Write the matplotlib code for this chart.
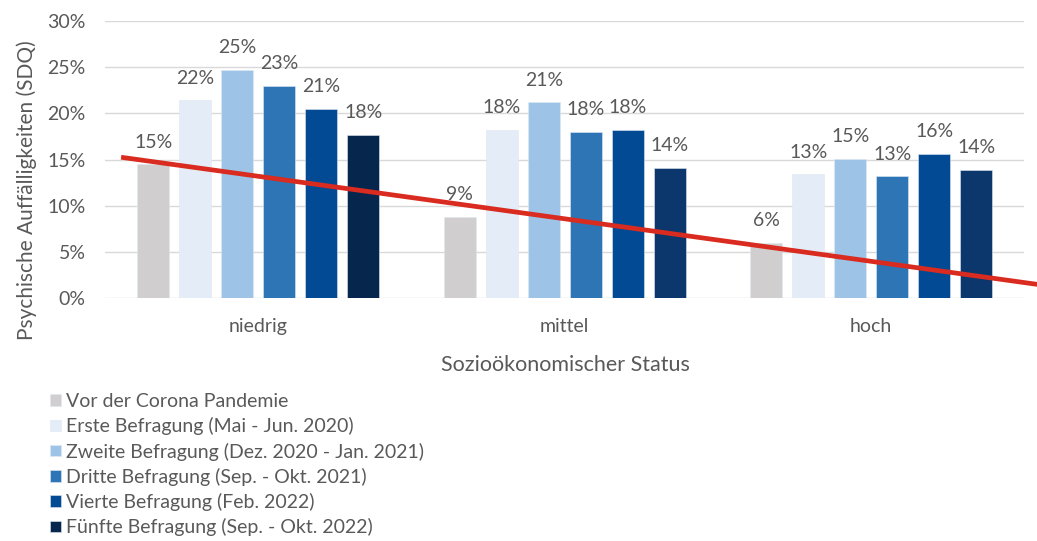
import matplotlib.pyplot as plt
import numpy as np

plt.rcParams['font.family'] = ['Lato', 'DejaVu Sans']

# Daten: psychische Auffälligkeiten (SDQ) nach sozioökonomischem Status
status = ['niedrig', 'mittel', 'hoch']
wellen = ['Vor der Corona Pandemie',
          'Erste Befragung (Mai - Jun. 2020)',
          'Zweite Befragung (Dez. 2020 - Jan. 2021)',
          'Dritte Befragung (Sep. - Okt. 2021)',
          'Vierte Befragung (Feb. 2022)',
          'Fünfte Befragung (Sep. - Okt. 2022)']
werte = {
    'Vor der Corona Pandemie':                  [14.5, 8.8, 6.0],
    'Erste Befragung (Mai - Jun. 2020)':        [21.4, 18.2, 13.4],
    'Zweite Befragung (Dez. 2020 - Jan. 2021)': [24.7, 21.2, 15.1],
    'Dritte Befragung (Sep. - Okt. 2021)':      [23.0, 18.0, 13.2],
    'Vierte Befragung (Feb. 2022)':             [20.5, 18.2, 15.6],
    'Fünfte Befragung (Sep. - Okt. 2022)':      [17.7, 14.1, 13.9],
}
labels = {
    'Vor der Corona Pandemie':                  ['15%', '9%', '6%'],
    'Erste Befragung (Mai - Jun. 2020)':        ['22%', '18%', '13%'],
    'Zweite Befragung (Dez. 2020 - Jan. 2021)': ['25%', '21%', '15%'],
    'Dritte Befragung (Sep. - Okt. 2021)':      ['23%', '18%', '13%'],
    'Vierte Befragung (Feb. 2022)':             ['21%', '18%', '16%'],
    'Fünfte Befragung (Sep. - Okt. 2022)':      ['18%', '14%', '14%'],
}
# Trendlinie (Werte an den Kategorien)
trend = [13.2, 8.6, 4.0]

farben = ['#d0cece', '#e3ecf7', '#9dc3e6', '#2e75b6', '#024a94', '#0b376c']
farbe_fuenfte_niedrig = '#07264d'
grau_text = '#595959'

fig = plt.figure(figsize=(10.37, 5.41), dpi=100)
ax = fig.add_axes([0.1013, 0.4486, 0.8866, 0.5126])

x = np.arange(len(status))
slot = 0.137
breite = 0.104
for i, w in enumerate(wellen):
    pos = x + (i - 2.5) * slot
    cols = [farben[i]] * 3
    if i == 5:
        cols[0] = farbe_fuenfte_niedrig
    ax.bar(pos, werte[w], width=breite, color=cols, label=w, zorder=2,
           edgecolor='#dfe8f2', linewidth=0.4)
    for px, v, t in zip(pos, werte[w], labels[w]):
        ax.annotate(t, (px, v), xytext=(0, 12), textcoords='offset points',
                    ha='center', va='baseline', fontsize=14, color=grau_text)

# Trendlinie über die Achse hinaus verlängert
m, b = np.polyfit(x, trend, 1)
tx = np.array([-0.44, 2.54])
ax.plot(tx, m * tx + b, color='#d92b1f', linewidth=3.4, zorder=3, clip_on=False)

ax.set_xlim(-0.5, 2.5)
ax.set_ylim(0, 30)
ax.set_yticks(np.arange(0, 31, 5))
ax.set_yticklabels([f'{v}%' for v in range(0, 31, 5)])
ax.set_xticks(x)
ax.set_xticklabels(status)
ax.tick_params(length=0, labelsize=14, colors=grau_text)
ax.tick_params(axis='y', pad=14)
ax.tick_params(axis='x', pad=14)
ax.grid(axis='y', color='#d9d9d9', linewidth=1, zorder=0)
ax.set_axisbelow(True)
for s in ax.spines.values():
    s.set_visible(False)

fig.text(565 / 1037, 1 - 365 / 541, 'Sozioökonomischer Status', ha='center',
         va='center', fontsize=15.5, color=grau_text)
fig.text(27 / 1037, 1 - 190 / 541, 'Psychische Auffälligkeiten (SDQ)',
         rotation=90, ha='center', va='center', fontsize=15, color=grau_text)

fig.legend(loc='upper left', bbox_to_anchor=(50 / 1037, 1 - 393 / 541),
           frameon=False, fontsize=14, labelcolor=grau_text,
           handlelength=0.55, handleheight=0.55, handletextpad=0.25,
           labelspacing=0.37, borderaxespad=0, borderpad=0)

fig.savefig('out.png', dpi=100)
